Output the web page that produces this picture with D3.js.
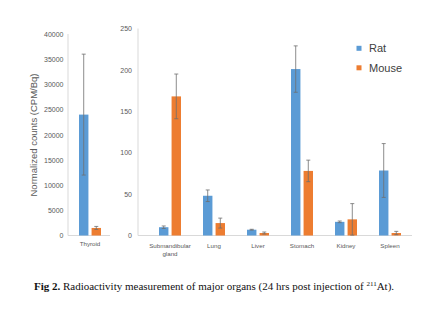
<!DOCTYPE html>
<html><head><meta charset="utf-8">
<script src="https://cdn.jsdelivr.net/npm/d3@7"></script>
<style>body{margin:0;background:#fff}svg{display:block}</style>
</head><body>
<script>
const series = ["Rat", "Mouse"];
const colors = ["#5B9BD5", "#ED7D31"];
const leftCategories = ["Thyroid"];
const leftRat = [24000], leftRatErr = [12000];
const leftMouse = [1500], leftMouseErr = [300];
const leftTicks = [0,5000,10000,15000,20000,25000,30000,35000,40000];
const rightCategories = ["Submandibular gland","Lung","Liver","Stomach","Kidney","Spleen"];
const rightRat = [10, 48, 7, 201, 16.5, 78.5];
const rightRatErr = [1.5, 7, 0.5, 28, 1, 32.5];
const rightMouse = [168, 15, 3, 78, 19.5, 3];
const rightMouseErr = [27, 6, 1.2, 13, 19, 2];
const rightTicks = [0,50,100,150,200,250];
const yLabel = "Normalized counts (CPM/Bq)";

const W = 440, H = 321;
const svg = d3.select("body").append("svg").attr("width", W).attr("height", H);
const gray = "#595959", axisCol = "#d9d9d9", errCol = "#6f6f6f";
const font = "Liberation Sans, Arial, sans-serif";

function panel(cats, rat, ratErr, mouse, mouseErr, ticks, yDomMax, yTop, xRange, axisX, baseEnd, labelX) {
  const y = d3.scaleLinear().domain([0, yDomMax]).range([235.5, yTop]);
  const x0 = d3.scaleBand().domain(cats).range(xRange).paddingInner(0.5).paddingOuter(0.25);
  const x1 = d3.scaleBand().domain(series).range([0, x0.bandwidth()]).paddingInner(0.25);
  // axes lines
  svg.append("line").attr("x1", axisX).attr("x2", axisX).attr("y1", yTop).attr("y2", y(0))
    .attr("stroke", axisCol).attr("stroke-width", 1);
  svg.append("line").attr("x1", axisX).attr("x2", baseEnd).attr("y1", y(0)).attr("y2", y(0))
    .attr("stroke", axisCol).attr("stroke-width", 1);
  // tick labels
  const ax = d3.axisLeft(y).tickValues(ticks).tickSize(0).tickPadding(0).tickFormat(d3.format("d"));
  const g = svg.append("g").attr("transform", `translate(${labelX},0)`).call(ax);
  g.select(".domain").remove();
  g.selectAll("text").attr("fill", gray).attr("font-family", font).attr("font-size", "7px");
  // bars
  const data = [];
  cats.forEach((c, i) => {
    data.push({c, s: "Rat", v: rat[i], e: ratErr[i], col: colors[0]});
    data.push({c, s: "Mouse", v: mouse[i], e: mouseErr[i], col: colors[1]});
  });
  svg.append("g").selectAll("rect").data(data).join("rect")
    .attr("x", d => x0(d.c) + x1(d.s)).attr("width", x1.bandwidth())
    .attr("y", d => y(d.v)).attr("height", d => y(0) - y(d.v)).attr("fill", d => d.col);
  const eg = svg.append("g").attr("stroke", errCol).attr("stroke-width", 0.8);
  data.forEach(d => {
    const cx = x0(d.c) + x1(d.s) + x1.bandwidth() / 2;
    const t = y(d.v + d.e), b = y(Math.max(0, d.v - d.e));
    eg.append("line").attr("x1", cx).attr("x2", cx).attr("y1", t).attr("y2", b);
    eg.append("line").attr("x1", cx - 2).attr("x2", cx + 2).attr("y1", t).attr("y2", t);
    eg.append("line").attr("x1", cx - 2).attr("x2", cx + 2).attr("y1", b).attr("y2", b);
  });
  // category labels
  cats.forEach(c => {
    const cx = x0(c) + x0.bandwidth() / 2;
    const words = c === "Submandibular gland" ? ["Submandibular", "gland"] : [c];
    const t = svg.append("text").attr("x", cx).attr("y", c === "Thyroid" ? 245.5 : 247.5)
      .attr("text-anchor", "middle").attr("fill", gray).attr("font-family", font).attr("font-size", "6.2px");
    words.forEach((w, k) => t.append("tspan").attr("x", cx).attr("dy", k ? 8.5 : 0).text(w));
  });
}

panel(leftCategories, leftRat, leftRatErr, leftMouse, leftMouseErr, leftTicks, 40000, 34, [68, 112], 68, 110, 63.5);
panel(rightCategories, rightRat, rightRatErr, rightMouse, rightMouseErr, rightTicks, 250, 28.5, [148, 412], 138, 412, 132);

// y label
svg.append("text").attr("transform", "translate(37,135) rotate(-90)")
  .attr("text-anchor", "middle").attr("fill", gray).attr("font-family", font).attr("font-size", "9.5px")
  .text(yLabel);

// legend
const lg = svg.append("g");
series.forEach((s, i) => {
  const yy = 48.3 + i * 19.5;
  lg.append("rect").attr("x", 356.5).attr("y", yy - 2.5).attr("width", 5).attr("height", 5).attr("fill", colors[i]);
  lg.append("text").attr("x", 369).attr("y", yy + 3.8).attr("fill", "#404040")
    .attr("font-family", font).attr("font-size", "11px").text(s);
});

// caption
const cap = svg.append("text").attr("x", 214).attr("y", 290).attr("text-anchor", "middle")
  .attr("font-family", "Liberation Serif, Times New Roman, serif").attr("font-size", "11px").attr("fill", "#111");
cap.append("tspan").attr("font-weight", "bold").text("Fig 2.");
cap.append("tspan").text(" Radioactivity measurement of major organs (24 hrs post injection of ");
cap.append("tspan").attr("font-size", "7px").attr("dy", -4).text("211");
cap.append("tspan").attr("dy", 4).text("At).");
</script>
</body></html>
